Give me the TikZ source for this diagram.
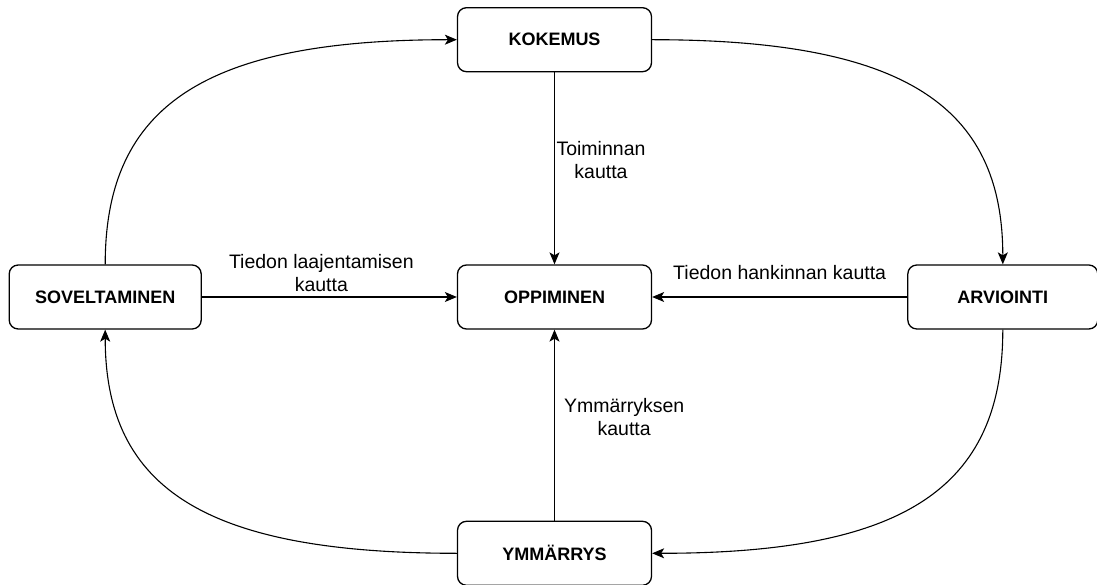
\documentclass[tikz,border=0pt]{standalone}
\usepackage{fontspec}
\setmainfont{Liberation Sans}
\usetikzlibrary{positioning,arrows.meta}

\begin{document}
\begin{tikzpicture}[x=1pt,y=1pt,
        box/.style={draw, line width=1.3pt, rounded corners=9pt, minimum width=194pt, minimum height=64pt, font=\fontsize{18}{21}\selectfont\bfseries},
        lbl/.style={align=center, font=\fontsize{19.5}{23}\selectfont, inner sep=0pt},
        arr/.style={line width=1.1pt, -{Stealth[length=12pt,width=10pt,inset=3pt]}},
        node distance=192pt and 255pt]
        \useasboundingbox (0,0) rectangle (1097,584);
        \node (1) [box] at (554.5,287) {OPPIMINEN};
        \node (2) [box, above = of 1] {KOKEMUS};
        \node (3) [box, right = of 1, minimum width=190pt] {ARVIOINTI};
        \node (4) [box, below = 191pt of 1] {YMMÄRRYS};
        \node (5) [box, left = of 1, minimum width=192pt] {SOVELTAMINEN};
        %straight ones into the middle
        \draw[arr] (2) -- (1) node[lbl, midway, right=1.5pt, yshift=8pt] {Toiminnan\\kautta};
        \draw[arr] (4) -- (1) node[lbl, midway, right=9pt, yshift=8.5pt] {Ymmärryksen\\kautta};
        \draw[arr] (5) -- (1) node[lbl, midway, above=5pt, xshift=-8pt] {Tiedon laajentamisen\\kautta};
        \draw[arr] (3) -- (1) node[lbl, midway, above=17pt] {Tiedon hankinnan kautta};
        %the outer cycle
        \draw[arr] (5.north) .. controls +(0,160) and +(-250,0) .. (2.west);
        \draw[arr] (2.east) .. controls +(250,0) and +(0,160) .. (3.north);
        \draw[arr] (3.south) .. controls +(0,-160) and +(250,0) .. (4.east);
        \draw[arr] (4.west) .. controls +(-250,0) and +(0,-160) .. (5.south);
    \end{tikzpicture}
\end{document}
